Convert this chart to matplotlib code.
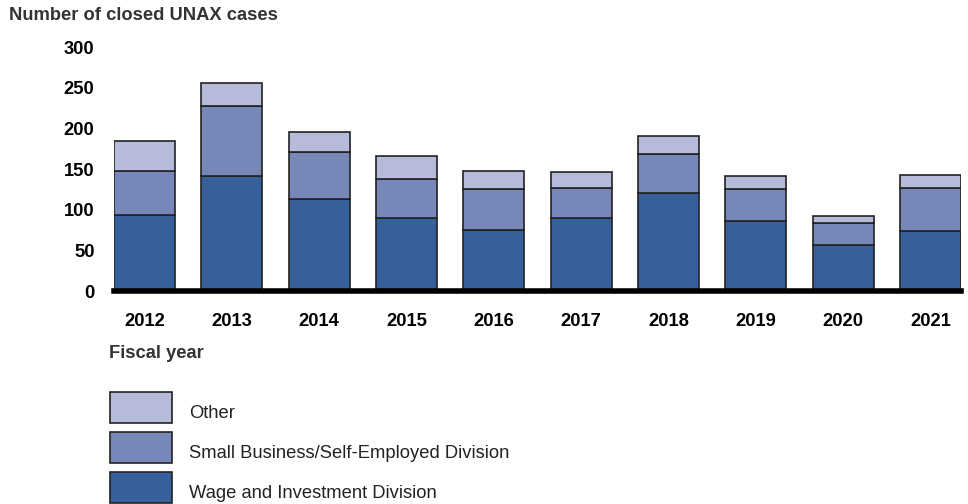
import matplotlib.pyplot as plt
from matplotlib.patches import Rectangle
import numpy as np

plt.rcParams['font.family'] = ['Liberation Sans', 'DejaVu Sans']

years = ['2012', '2013', '2014', '2015', '2016', '2017', '2018', '2019', '2020', '2021']
wage_invest = [94, 142, 113, 90, 75, 90, 121, 86, 56, 74]
small_biz = [54, 86, 58, 48, 50, 37, 47, 39, 28, 53]
other = [36, 28, 25, 28, 22, 19, 23, 16, 8, 16]

labels = ['Other', 'Small Business/Self-Employed Division', 'Wage and Investment Division']
colors = ['#b7bbdb', '#7788b8', '#36609b']
edge = '#222222'
fs = 13.2

fig = plt.figure(figsize=(9.68, 5.04), dpi=100)
W, H = 968, 504
ax = fig.add_axes([114 / W, (H - 291) / H, (961 - 114) / W, (291 - 47) / H])

x = np.arange(len(years))
wi = np.array(wage_invest)
sb = np.array(small_biz)
ot = np.array(other)
bw = 0.70
ax.bar(x, wi, bw, color=colors[2], edgecolor=edge, linewidth=1.2, zorder=2)
ax.bar(x, sb, bw, bottom=wi, color=colors[1], edgecolor=edge, linewidth=1.2, zorder=2)
ax.bar(x, ot, bw, bottom=wi + sb, color=colors[0], edgecolor=edge, linewidth=1.2, zorder=2)

ax.set_xlim(-bw / 2, len(years) - 1 + bw / 2)
ax.set_ylim(0, 300)
ax.set_yticks(range(0, 301, 50))
ax.set_xticks(x)
ax.set_xticklabels(years)
for s in ['top', 'right', 'left']:
    ax.spines[s].set_visible(False)
ax.spines['bottom'].set_linewidth(4)
ax.spines['bottom'].set_zorder(3)
ax.tick_params(length=0)
ax.tick_params(axis='y', pad=14)
ax.tick_params(axis='x', pad=16)
for t in ax.get_xticklabels() + ax.get_yticklabels():
    t.set_fontsize(fs)
    t.set_fontweight('bold')

fig.text(9 / W, 1 - 16 / H, 'Number of closed UNAX cases', fontsize=fs,
         fontweight='bold', va='center', ha='left', color='#333333')
fig.text(109 / W, 1 - 353 / H, 'Fiscal year', fontsize=fs,
         fontweight='bold', va='center', ha='left', color='#333333')

# legend drawn by hand to match the layout
tops = [392, 432, 472]
for lab, col, top in zip(labels, colors, tops):
    fig.patches.append(Rectangle((110 / W, 1 - (top + 31) / H), 62 / W, 31 / H,
                                 transform=fig.transFigure, facecolor=col,
                                 edgecolor=edge, linewidth=1.2))
    fig.text(189 / W, 1 - (top + 21) / H, lab, fontsize=fs, color='#222222',
             va='center', ha='left')

plt.savefig('out.png', dpi=100)
